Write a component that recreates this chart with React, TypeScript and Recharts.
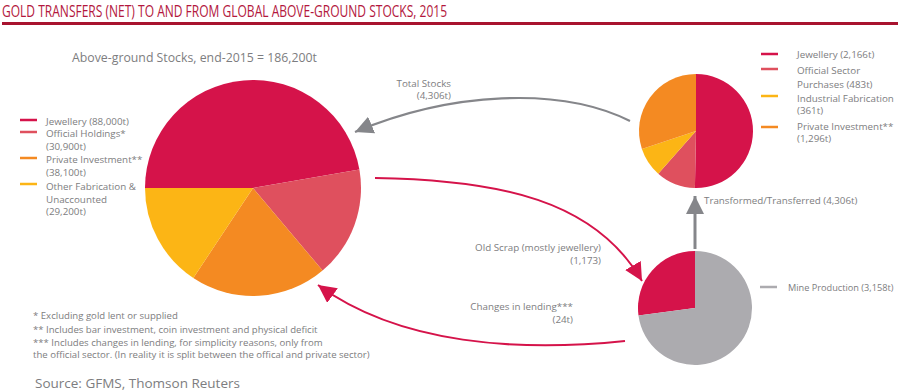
import React from "react";
import { PieChart, Pie, Cell, Customized } from "recharts";

// above-ground stocks, end-2015 (tonnes)
const stockNames = ["Jewellery", "Official Holdings", "Private Investment", "Other Fabrication & Unaccounted"];
const stockValues = [88000, 30900, 38100, 29200];
const stockColors = ["#d5134a", "#df505e", "#f48a22", "#fcb515"];

// 2015 demand flows (tonnes)
const flowNames = ["Jewellery", "Official Sector Purchases", "Industrial Fabrication", "Private Investment"];
const flowValues = [2166, 483, 361, 1296];
const flowColors = ["#d5134a", "#df505e", "#fcb515", "#f48a22"];

// 2015 supply (tonnes)
const supplyNames = ["Old Scrap", "Mine Production"];
const supplyValues = [1173, 3158];
const supplyColors = ["#d5134a", "#acabaf"];

const stockLegend = [
  ["Jewellery (88,000t)"],
  ["Official Holdings*", "(30,900t)"],
  ["Private Investment**", "(38,100t)"],
  ["Other Fabrication &", "Unaccounted", "(29,200t)"],
];
const flowLegend = [
  ["Jewellery (2,166t)"],
  ["Official Sector", "Purchases (483t)"],
  ["Industrial Fabrication", "(361t)"],
  ["Private Investment**", "(1,296t)"],
];
const footnotes = [
  "* Excluding gold lent or supplied",
  "** Includes bar investment, coin investment and physical deficit",
  "*** Includes changes in lending, for simplicity reasons, only from",
  "the official sector. (In reality it is split between the offical and private sector)",
];

const stockData = stockNames.map((name, i) => ({ name, value: stockValues[i] }));
const flowData = flowNames.map((name, i) => ({ name, value: flowValues[i] }));
const supplyData = supplyNames.map((name, i) => ({ name, value: supplyValues[i] }));

const BIG = { cx: 253, cy: 188, r: 108 };
const TOP = { cx: 696, cy: 131, r: 57 };
const LOW = { cx: 695, cy: 308, r: 57 };

const FONT = "'Open Sans', sans-serif";
const GREY_TEXT = "#7d7d80";
const GREY_ARROW = "#85868a";
const RED = "#d5134a";

function Overlay() {
  const t = (x: number, y: number, s: string, size = 9.8, anchor: "start" | "end" = "start", key?: string) => (
    <text key={key} x={x} y={y} fontSize={size} fill={GREY_TEXT} fontFamily={FONT}
      dominantBaseline="central" textAnchor={anchor}>{s}</text>
  );
  const stockY = [[121], [133, 146], [159, 172], [186, 199, 211]];
  const stockMark = [120, 132, 158, 184];
  const flowY = [[54], [70, 84], [98, 110], [126, 138]];
  const flowMark = [54, 69, 96, 127];
  return (
    <g>
      <defs>
        <marker id="hg" markerUnits="userSpaceOnUse" markerWidth="20" markerHeight="18" refX="18" refY="9" orient="auto">
          <path d="M0,0 L18,9 L0,18 Z" fill={GREY_ARROW} />
        </marker>
        <marker id="hr" markerUnits="userSpaceOnUse" markerWidth="20" markerHeight="18" refX="18" refY="9" orient="auto">
          <path d="M0,0 L18,9 L0,18 Z" fill={RED} />
        </marker>
      </defs>
      <text x={2} y={10} fontSize={16.5} fill="#b3173d" fontFamily={FONT} dominantBaseline="central"
        textLength={445} lengthAdjust="spacingAndGlyphs">
        GOLD TRANSFERS (NET) TO AND FROM GLOBAL ABOVE-GROUND STOCKS, 2015
      </text>
      <rect x={2} y={22} width={896} height={3} fill="#a8132f" />

      {t(72, 57, "Above-ground Stocks, end-2015 = 186,200t", 12.3)}

      {stockLegend.map((lines, i) => (
        <g key={"s" + i}>
          <line x1={20} x2={37} y1={stockMark[i]} y2={stockMark[i]} stroke={stockColors[i]} strokeWidth={2.5} />
          {lines.map((s, j) => t(46, stockY[i][j], s, 9.8, "start", "s" + i + j))}
        </g>
      ))}
      {flowLegend.map((lines, i) => (
        <g key={"f" + i}>
          <line x1={761} x2={778} y1={flowMark[i]} y2={flowMark[i]} stroke={flowColors[i]} strokeWidth={2.5} />
          {lines.map((s, j) => t(797, flowY[i][j], s, 9.8, "start", "f" + i + j))}
        </g>
      ))}
      <line x1={760} x2={777} y1={287} y2={287} stroke={supplyColors[1]} strokeWidth={2.5} />
      {t(788, 287, "Mine Production (3,158t)", 9.2)}

      {/* flows */}
      <path d={`M ${TOP.cx - 66} ${TOP.cy - 10} C 560 86, 450 92, ${BIG.cx + 102} ${BIG.cy - 56}`}
        fill="none" stroke={GREY_ARROW} strokeWidth={2.2} markerEnd="url(#hg)" />
      {t(451, 83, "Total Stocks", 9.8, "end")}
      {t(451, 95, "(4,306t)", 9.8, "end")}

      <path d={`M 375 178 C 500 180, 595 200, ${LOW.cx - 53} ${LOW.cy - 27}`}
        fill="none" stroke={RED} strokeWidth={2} markerEnd="url(#hr)" />
      {t(601, 247, "Old Scrap (mostly jewellery)", 9.8, "end")}
      {t(601, 260, "(1,173)", 9.8, "end")}

      <path d={`M ${LOW.cx - 70} ${LOW.cy + 33} C 520 352, 400 345, 318 285`}
        fill="none" stroke={RED} strokeWidth={2} markerEnd="url(#hr)" />
      {t(573, 306, "Changes in lending***", 9.8, "end")}
      {t(573, 319, "(24t)", 9.8, "end")}

      <path d={`M ${LOW.cx} ${LOW.cy - LOW.r - 2} L ${LOW.cx} ${TOP.cy + TOP.r + 8}`}
        fill="none" stroke={GREY_ARROW} strokeWidth={3} markerEnd="url(#hg)" />
      {t(704, 200, "Transformed/Transferred (4,306t)", 9.8)}

      {footnotes.map((s, i) => t(33, [315, 329, 342, 354][i], s, 9.6, "start", "n" + i))}
      {t(35, 383, "Source: GFMS, Thomson Reuters", 13.5)}
    </g>
  );
}

export default function App() {
  return (
    <div style={{ position: "absolute", left: 0, top: 0, width: 900, height: 392, background: "#fff" }}>
      <PieChart width={900} height={392} margin={{ top: 0, right: 0, bottom: 0, left: 0 }}>
        <Pie data={stockData} dataKey="value" cx={BIG.cx} cy={BIG.cy} outerRadius={BIG.r}
          startAngle={180} endAngle={-180} stroke="none" isAnimationActive={false}>
          {stockData.map((_, i) => <Cell key={i} fill={stockColors[i]} />)}
        </Pie>
        <Pie data={flowData} dataKey="value" cx={TOP.cx} cy={TOP.cy} outerRadius={TOP.r}
          startAngle={90} endAngle={-270} stroke="none" isAnimationActive={false}>
          {flowData.map((_, i) => <Cell key={i} fill={flowColors[i]} />)}
        </Pie>
        <Pie data={supplyData} dataKey="value" cx={LOW.cx} cy={LOW.cy} outerRadius={LOW.r}
          startAngle={90} endAngle={450} stroke="none" isAnimationActive={false}>
          {supplyData.map((_, i) => <Cell key={i} fill={supplyColors[i]} />)}
        </Pie>
        <Customized component={<Overlay />} />
      </PieChart>
    </div>
  );
}
